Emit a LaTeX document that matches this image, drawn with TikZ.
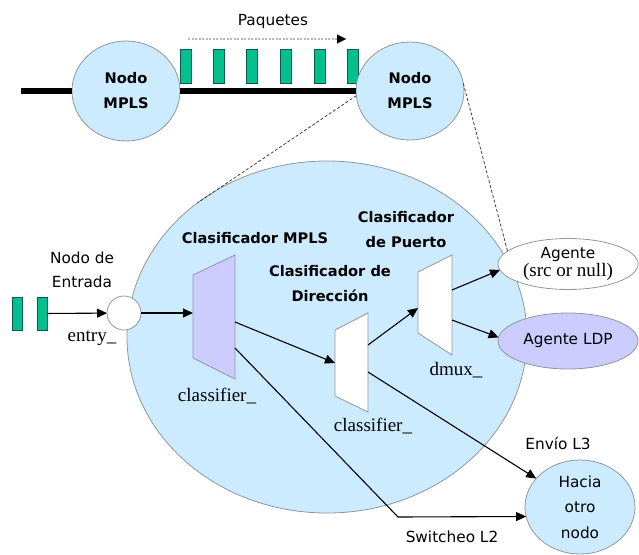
\documentclass[tikz,border=0pt]{standalone}
\usepackage{fontspec}
\setmainfont{Liberation Serif}
\newfontfamily\sansf{DejaVu Sans}
\usetikzlibrary{shapes.geometric,arrows.meta}
\definecolor{skyfill}{HTML}{CCEBFF}
\definecolor{rim}{HTML}{8E979E}
\definecolor{pktgreen}{HTML}{00C08F}
\definecolor{pktrim}{HTML}{0A5A45}
\definecolor{lav}{HTML}{CCCCFF}
\definecolor{dotgray}{HTML}{B8B8B8}

\begin{document}
\begin{tikzpicture}[x=1pt,y=-1pt,
  every node/.style={inner sep=0pt, outer sep=0pt},
  blob/.style={ellipse, draw=rim, line width=0.8pt, fill=skyfill},
  packet/.style={rectangle, draw=pktrim, fill=pktgreen, line width=0.8pt,
                 minimum width=10pt, minimum height=33pt},
  trapbox/.style={draw=rim, line width=0.8pt},
  conn/.style={line width=1.1pt, -{Triangle[length=10pt,width=9pt]}},
  zoomline/.style={draw=black!75, line width=0.8pt, dash pattern=on 3pt off 2pt},
  plain/.style={font=\sansf\fontsize{15.3}{24}\selectfont, align=center},
  heavy/.style={font=\sansf\bfseries\fontsize{14.6}{25}\selectfont, align=center},
  code/.style={font=\fontsize{19}{22}\selectfont}]

\useasboundingbox (0,0) rectangle (639,554);

% enlarged node
\node[blob, minimum width=400pt, minimum height=352pt] (zoom) at (327,337) {};

% link with packets
\coordinate (lstart) at (21,91);
\foreach \i/\x in {1/185.5,2/218.5,3/251.5,4/285.5,5/319.5,6/352.5}
  \node[packet, minimum width=11pt, minimum height=34pt] (p\i) at (\x,66) {};
\node[blob, minimum width=108pt, minimum height=100pt, heavy] (n1) at (126,91) {Nodo\\MPLS};
\node[blob, minimum width=108pt, minimum height=98pt, heavy] (n2) at (410,91) {Nodo\\MPLS};
\draw[line width=5.5pt] (lstart) -- (n1);
\draw[line width=5.5pt] (n1) -- (n2);

\node[plain] (paq) at (273,22) {Paquetes};
\coordinate (pa) at (188,39);
\coordinate (pb) at (346,39);
\draw[dotgray, line width=1.6pt, dash pattern=on 2pt off 1.5pt] (pa) -- ([xshift=-6pt]pb);
\draw[line width=0.1pt, -{Triangle[length=9pt,width=9pt,color=black]}] ([xshift=-8pt]pb) -- (pb);

% entry
\node[packet] (q1) at (17,313.5) {};
\node[packet] (q2) at (42,313.5) {};
\node[circle, draw=rim, fill=white, line width=0.8pt, minimum size=34pt] (entry) at (124,313) {};
\node[plain] (entrada) at (82,270) {Nodo de\\Entrada};
\node[code] (entryl) at (92,338) {entry\_};
\draw[conn] (q2) -- (entry);

% classifiers
\draw[trapbox, fill=lav] (193,275) -- (235,255) -- (235,379) -- (193,358) -- cycle;
\draw[trapbox, fill=white] (335,330) -- (368,313) -- (368,412) -- (335,396) -- cycle;
\draw[trapbox, fill=white] (418,272) -- (452,255) -- (452,355) -- (418,333) -- cycle;
\coordinate (c1in) at (193,313);
\coordinate (c1out) at (235,322);
\coordinate (c1sw) at (235,348);
\coordinate (c2in) at (335,363);
\coordinate (c2up) at (368,345);
\coordinate (c2dn) at (368,372);
\coordinate (c3in) at (418,308);
\coordinate (c3a) at (452,290);
\coordinate (c3b) at (452,320);
\coordinate (bend) at (398,517);

\node[heavy] (t1) at (255,238) {Clasificador MPLS};
\node[heavy] (t2) at (330,284) {Clasificador de\\Dirección};
\node[heavy] (t3) at (406,230) {Clasificador\\de Puerto};
\node[code] (k1) at (217,396) {classifier\_};
\node[code] (k2) at (373,426) {classifier\_};
\node[code] (k3) at (456,370) {dmux\_};

% agents and next hop
\node[ellipse, draw=rim, fill=white, line width=0.8pt, minimum width=140pt, minimum height=51pt,
      align=center] (ag) at (568,264)
      {{\sansf\fontsize{15.3}{18}\selectfont Agente}\\[1pt]{\fontsize{19}{20}\selectfont (src or null)}};
\node[ellipse, draw=rim, fill=lav, line width=0.8pt, minimum width=140pt, minimum height=56pt,
      plain] (ldp) at (568,341) {Agente LDP};
\node[blob, minimum width=110pt, minimum height=94pt, plain, font=\sansf\fontsize{15.3}{25.5}\selectfont]
      (hacia) at (580,507) {Hacia\\otro\\nodo};
\node[plain] (l3) at (558,443) {Envío L3};
\node[plain] (l2) at (452,537) {Switcheo L2};

% connectors
\draw[conn] (entry) -- (c1in);
\draw[conn] (c1out) -- (c2in);
\draw[conn] (c2up) -- (c3in);
\draw[conn] (c3a) -- (ag.185);
\draw[conn] (c3b) -- (ldp.177);
\draw[conn] (c2dn) -- (hacia.147);
\draw[conn] (c1sw) -- (bend) -- (hacia.190);

% zoom guides
\draw[zoomline] (n2.185) -- (zoom.134);
\draw[zoomline] (n2.8) -- (ag.168);
\end{tikzpicture}
\end{document}
